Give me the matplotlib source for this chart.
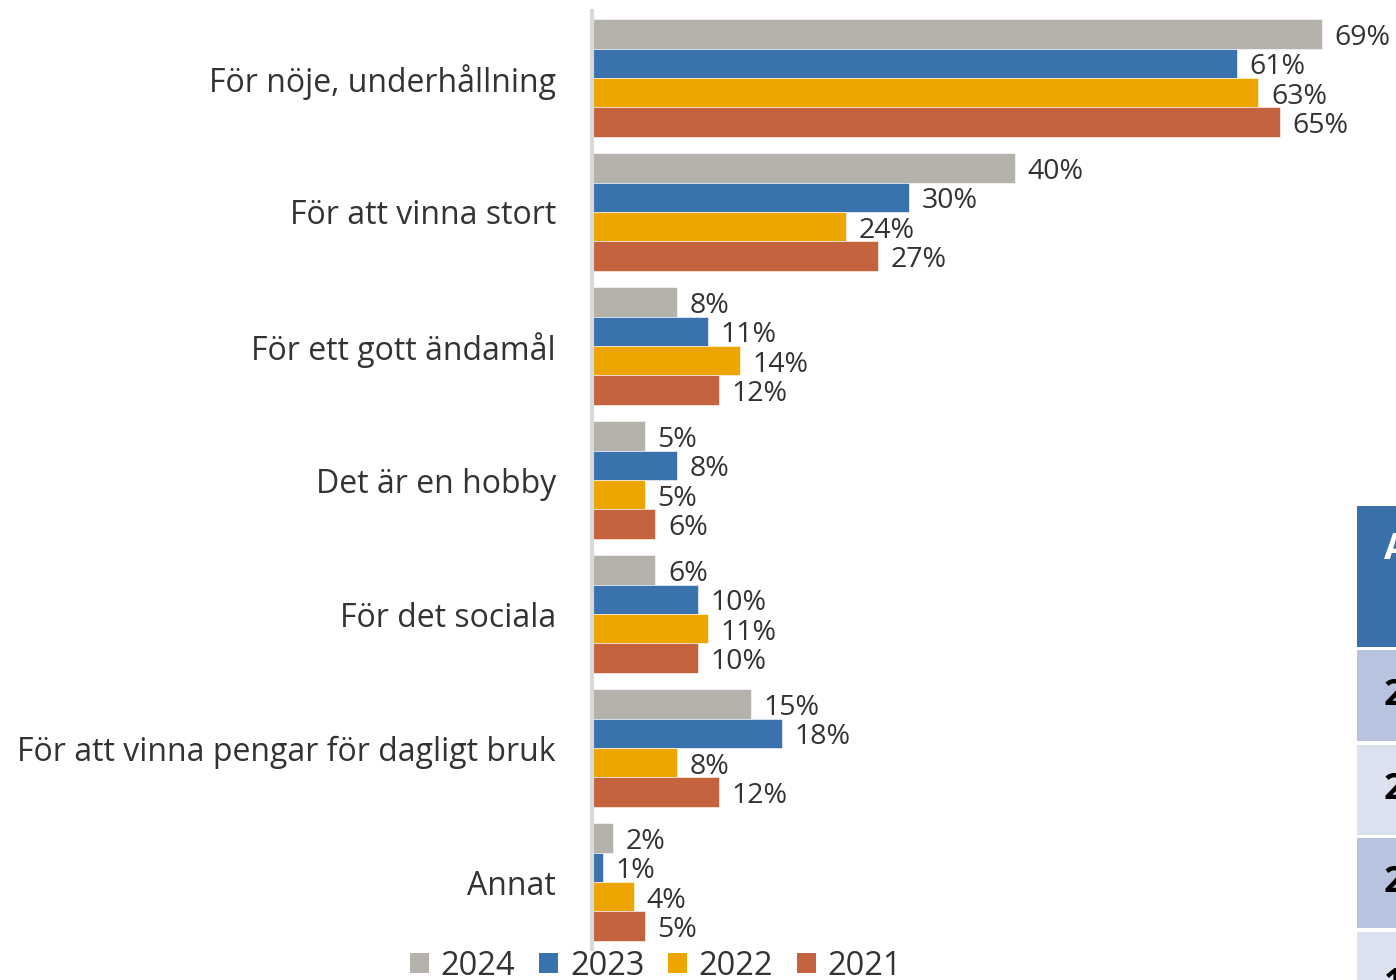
import matplotlib
matplotlib.use("Agg")
import matplotlib.pyplot as plt
from matplotlib.patches import Patch, Rectangle

plt.rcParams["font.family"] = ["Open Sans", "DejaVu Sans"]

categories = [
    "För nöje, underhållning",
    "För att vinna stort",
    "För ett gott ändamål",
    "Det är en hobby",
    "För det sociala",
    "För att vinna pengar för dagligt bruk",
    "Annat",
]
years = ["2024", "2023", "2022", "2021"]
v2024 = [69, 40, 8, 5, 6, 15, 2]
v2023 = [61, 30, 11, 8, 10, 18, 1]
v2022 = [63, 24, 14, 5, 11, 8, 4]
v2021 = [65, 27, 12, 6, 10, 12, 5]
series = [v2024, v2023, v2022, v2021]
colors = ["#B5B2AB", "#3A72AD", "#EDA500", "#C5633E"]

TEXT = "#333333"
BAR_H = 0.22

fig = plt.figure(figsize=(13.96, 9.8), dpi=100)
ax = fig.add_axes([592 / 1396, 1 - 949 / 980, 1 - 592 / 1396, 938 / 980])

for i, (vals, col) in enumerate(zip(series, colors)):
    ys = [k + (i - 1.5) * BAR_H for k in range(len(categories))]
    ax.barh(ys, vals, height=BAR_H, color=col, edgecolor="white", linewidth=0.4)
    for y, v in zip(ys, vals):
        ax.annotate(f"{v}%", (v, y), xytext=(9, -3), textcoords="offset points",
                    ha="left", va="center", fontsize=20.5, color=TEXT)

ax.set_xlim(0, 76)
ax.set_ylim(len(categories) - 0.5, -0.5)
ax.set_yticks(range(len(categories)))
ax.set_yticklabels(categories, fontsize=23, color=TEXT)
ax.tick_params(axis="y", length=0, pad=26)
ax.set_xticks([])
for s in ["top", "right", "bottom"]:
    ax.spines[s].set_visible(False)
ax.spines["left"].set_color("#D9D9D9")
ax.spines["left"].set_linewidth(3)

handles = [Patch(facecolor=c, edgecolor="none") for c in colors]
fig.legend(handles, years, loc="center", bbox_to_anchor=(656 / 1396, 1 - 966 / 980),
           ncol=4, frameon=False, fontsize=23.5, labelcolor=TEXT,
           handlelength=0.6, handleheight=0.6, handletextpad=0.35,
           columnspacing=0.72, borderaxespad=0)

# fragment of a neighbouring table cut off at the right edge
cells = [(506, 647, "#3A70AA", "A", "white"),
         (650, 741, "#B8C4DF", "2", "black"),
         (745, 835, "#DCE1EF", "2", "black"),
         (838, 928, "#B8C4DF", "2", "black"),
         (932, 990, "#DCE1EF", "1", "black")]
for top, bot, fc, txt, tc in cells:
    fig.patches.append(Rectangle((1357 / 1396, 1 - bot / 980), 1, (bot - top) / 980,
                                 transform=fig.transFigure, facecolor=fc,
                                 edgecolor="none", zorder=0))
    yc = (top + bot) / 2 if txt != "A" else 550
    if txt == "1":
        yc = 985
    fig.text(1384 / 1396, 1 - yc / 980, txt, ha="left", va="center",
             fontsize=26, fontweight="bold", color=tc)

fig.savefig("out.png", dpi=100)
